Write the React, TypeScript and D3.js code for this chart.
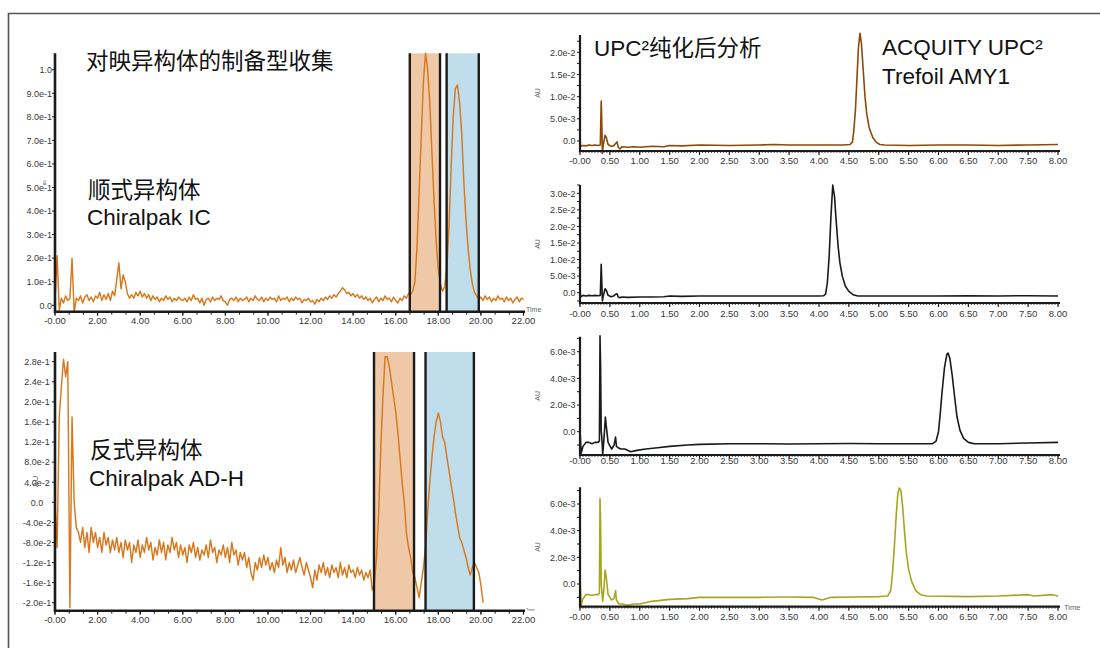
import React from 'react';
import * as d3 from 'd3';

// preparative runs are sampled every 0.1 min, starting at 0
const prepStep = 0.1;

// 顺式异构体 / Chiralpak IC, 0.0 – 22.0 min
const cisSignal = [
  0.02, 0.21, -0.02, 0.03, 0.01, 0.04, 0.02, 0.03, 0.2, -0.03,
  0.03, 0.02, 0.04, 0.01, 0.035, 0.045, 0.02, 0.035, 0.015, 0.04,
  0.03, 0.055, 0.02, 0.045, 0.025, 0.05, 0.02, 0.06, 0.04, 0.11,
  0.18, 0.07, 0.13, 0.1, 0.05, 0.03, 0.045, 0.03, 0.055, 0.04,
  0.06, 0.035, 0.05, 0.03, 0.045, 0.02, 0.04, 0.025, 0.035, 0.015,
  0.03, 0.02, 0.04, 0.025, 0.035, 0.015, 0.03, 0.02, 0.035, 0.025,
  0.02, 0.03, 0.015, 0.035, 0.02, 0.045, 0.025, 0.03, 0.01, 0.03,
  0.0, 0.025, 0.03, 0.015, 0.035, 0.02, 0.03, 0.025, 0.04, 0.02,
  0.015, 0.0, 0.025, 0.03, 0.02, 0.035, 0.015, 0.03, 0.02, 0.025,
  0.035, 0.015, 0.03, 0.02, 0.04, 0.025, 0.02, 0.035, 0.015, 0.03,
  0.02, 0.035, 0.025, 0.03, 0.015, 0.04, 0.02, 0.03, 0.025, 0.035,
  0.015, 0.03, 0.02, 0.035, 0.025, 0.03, 0.01, 0.025, 0.02, 0.03,
  0.015, 0.02, 0.005, 0.025, 0.015, 0.03, 0.02, 0.035, 0.025, 0.04,
  0.03, 0.045, 0.035, 0.05, 0.06, 0.075, 0.065, 0.05, 0.055, 0.04,
  0.05, 0.035, 0.045, 0.03, 0.04, 0.025, 0.035, 0.02, 0.03, 0.01,
  0.025, 0.035, 0.015, 0.03, 0.02, 0.04, 0.025, 0.03, 0.015, 0.035,
  0.02, 0.01, 0.03, 0.02, 0.04, 0.03, 0.05, 0.045, 0.06, 0.1,
  0.25, 0.48, 0.72, 0.95, 1.07, 1.0, 0.86, 0.65, 0.44, 0.27,
  0.15, 0.09, 0.06, 0.08, 0.16, 0.33, 0.58, 0.8, 0.92, 0.935,
  0.86, 0.73, 0.52, 0.36, 0.24, 0.15, 0.09, 0.055, 0.04, 0.025,
  0.035, 0.02, 0.04, 0.025, 0.035, 0.015, 0.03, 0.02, 0.04, 0.025,
  0.03, 0.015, 0.035, 0.02, 0.03, 0.01, 0.025, 0.035, 0.015, 0.03,
  0.025,
];

// 反式异构体 / Chiralpak AD-H, 0.0 – 20.1 min
const transSignal = [
  0.0, -0.09, 0.17, 0.23, 0.285, 0.25, 0.28, -0.21, 0.17, 0.0,
  -0.05, -0.06, -0.08, -0.05, -0.09, -0.06, -0.1, -0.05, -0.08, -0.06,
  -0.09, -0.07, -0.1, -0.06, -0.085, -0.07, -0.1, -0.075, -0.095, -0.07,
  -0.1, -0.08, -0.11, -0.075, -0.095, -0.08, -0.12, -0.085, -0.1, -0.075,
  -0.11, -0.085, -0.1, -0.07, -0.095, -0.08, -0.115, -0.09, -0.105, -0.075,
  -0.1, -0.08, -0.115, -0.085, -0.1, -0.07, -0.095, -0.08, -0.11, -0.085,
  -0.105, -0.09, -0.12, -0.085, -0.1, -0.08, -0.11, -0.09, -0.115, -0.095,
  -0.105, -0.085, -0.11, -0.075, -0.1, -0.09, -0.12, -0.095, -0.105, -0.085,
  -0.11, -0.09, -0.12, -0.08, -0.105, -0.095, -0.125, -0.1, -0.115, -0.1,
  -0.13, -0.11, -0.14, -0.155, -0.12, -0.135, -0.11, -0.13, -0.105, -0.125,
  -0.11, -0.135, -0.12, -0.14, -0.115, -0.13, -0.09, -0.125, -0.11, -0.14,
  -0.12, -0.135, -0.115, -0.14, -0.125, -0.11, -0.13, -0.145, -0.12, -0.135,
  -0.15, -0.17, -0.135, -0.155, -0.125, -0.14, -0.12, -0.145, -0.13, -0.15,
  -0.125, -0.14, -0.13, -0.15, -0.12, -0.145, -0.13, -0.15, -0.125, -0.14,
  -0.135, -0.15, -0.13, -0.145, -0.135, -0.155, -0.14, -0.15, -0.135, -0.175,
  -0.16, -0.11, -0.02, 0.11, 0.21, 0.29, 0.29, 0.27, 0.24, 0.21,
  0.18, 0.14, 0.09, 0.04, 0.0, -0.06, -0.09, -0.11, -0.14, -0.15,
  -0.17, -0.19, -0.16, -0.13, -0.09, -0.02, 0.04, 0.09, 0.13, 0.16,
  0.178, 0.16, 0.13, 0.12, 0.09, 0.064, 0.035, 0.01, -0.02, -0.045,
  -0.07, -0.08, -0.095, -0.11, -0.13, -0.145, -0.13, -0.12, -0.13, -0.14,
  -0.165, -0.2,
];

// collected fractions, [start, end] min
const cisFractions = [[16.66, 18.08], [18.39, 19.9]];
const transFractions = [[14.98, 16.86], [17.4, 19.67]];
const fractionFills = ['#EFC9A7', '#C0DDEB'];

const prepTimeTicks = [0, 2, 4, 6, 8, 10, 12, 14, 16, 18, 20, 22];
const prepTimeLabels = ['-0.00', '2.00', '4.00', '6.00', '8.00', '10.00', '12.00', '14.00', '16.00', '18.00', '20.00', '22.00'];

const cisTicks = [0, 0.1, 0.2, 0.3, 0.4, 0.5, 0.6, 0.7, 0.8, 0.9, 1.0];
const cisTickLabels = ['0.0', '1.0e-1', '2.0e-1', '3.0e-1', '4.0e-1', '5.0e-1', '6.0e-1', '7.0e-1', '8.0e-1', '9.0e-1', '1.0'];
const transTicks = [-0.2, -0.16, -0.12, -0.08, -0.04, 0, 0.04, 0.08, 0.12, 0.16, 0.2, 0.24, 0.28];
const transTickLabels = ['-2.0e-1', '-1.6e-1', '-1.2e-1', '-8.0e-2', '-4.0e-2', '0.0', '4.0e-2', '8.0e-2', '1.2e-1', '1.6e-1', '2.0e-1', '2.4e-1', '2.8e-1'];

// UPC2 analyses after purification: [min, AU]
const upcTraceA = [
  [0, 0.0005], [0.01, -0.0012], [0.05, -0.001], [0.1, -0.0011], [0.15, -0.0009], [0.2, -0.001],
  [0.25, -0.0009], [0.3, -0.001], [0.34, -0.0009], [0.355, 0.009], [0.365, 0.004], [0.375, -0.0028],
  [0.39, -0.0008], [0.42, 0.0013], [0.44, 0.0008], [0.47, -0.0008], [0.52, -0.0012], [0.56, -0.0011],
  [0.6, -0.0005], [0.62, -0.0002], [0.64, -0.0014], [0.67, -0.0018], [0.7, -0.0013], [0.8, -0.0014],
  [0.9, -0.0013], [1.0, -0.0014], [1.2, -0.0012], [1.4, -0.0013], [1.5, -0.001], [1.7, -0.0011],
  [2.0, -0.0009], [2.5, -0.001], [3.0, -0.0009], [3.27, -0.0008], [3.5, -0.0009], [4.0, -0.0009],
  [4.4, -0.0009], [4.52, -0.0008], [4.56, -0.0002], [4.58, 0.002], [4.61, 0.007], [4.635, 0.014],
  [4.66, 0.021], [4.685, 0.0243], [4.71, 0.022], [4.74, 0.016], [4.77, 0.01], [4.8, 0.006],
  [4.84, 0.003], [4.9, 0.0008], [4.96, -0.0003], [5.02, -0.0008], [5.1, -0.0009], [5.5, -0.001],
  [6.0, -0.0009], [6.5, -0.0009], [7.0, -0.001], [7.5, -0.0009], [8.0, -0.0008],
];
const upcTraceB = [
  [0, 0.0008], [0.01, -0.0012], [0.05, -0.0008], [0.1, -0.001], [0.15, -0.0008], [0.2, -0.0009],
  [0.25, -0.0008], [0.3, -0.0009], [0.34, -0.0008], [0.355, 0.0086], [0.365, 0.003], [0.375, -0.0025],
  [0.39, -0.0009], [0.42, 0.0012], [0.44, 0.0007], [0.47, -0.0008], [0.52, -0.0012], [0.56, -0.001],
  [0.6, -0.0004], [0.62, -0.0003], [0.64, -0.0013], [0.67, -0.0015], [0.7, -0.0013], [0.8, -0.0014],
  [1.0, -0.0013], [1.2, -0.0013], [1.4, -0.0012], [1.5, -0.001], [1.7, -0.0011], [2.0, -0.001],
  [2.5, -0.001], [3.0, -0.001], [3.5, -0.001], [4.0, -0.001], [4.08, -0.0009], [4.11, -0.0004],
  [4.14, 0.003], [4.17, 0.011], [4.2, 0.023], [4.23, 0.0325], [4.26, 0.029], [4.29, 0.021],
  [4.32, 0.014], [4.35, 0.009], [4.39, 0.005], [4.44, 0.002], [4.5, 0.0004], [4.57, -0.0006],
  [4.65, -0.001], [5.0, -0.001], [5.5, -0.001], [6.0, -0.001], [6.5, -0.0009], [7.0, -0.001],
  [7.5, -0.0009], [8.0, -0.001],
];
const upcTraceC = [
  [0, 0.0001], [0.02, -0.0016], [0.05, -0.0011], [0.1, -0.0008], [0.15, -0.0008], [0.2, -0.0009],
  [0.25, -0.0008], [0.3, -0.0008], [0.325, -0.0007], [0.335, 0.0072], [0.345, 0.0048], [0.355, 0.0],
  [0.365, -0.0004], [0.38, -0.0017], [0.4, -0.0006], [0.425, 0.0011], [0.44, 0.0004], [0.47, -0.0008],
  [0.53, -0.0013], [0.57, -0.001], [0.595, -0.0004], [0.61, -0.0011], [0.64, -0.0012], [0.68, -0.0013],
  [0.75, -0.0013], [0.85, -0.0015], [0.95, -0.0014], [1.1, -0.0013], [1.3, -0.0012], [1.5, -0.0011],
  [1.8, -0.001], [2.0, -0.00095], [2.5, -0.0009], [3.0, -0.0009], [3.5, -0.00092], [4.0, -0.0009],
  [4.5, -0.00088], [5.0, -0.0009], [5.5, -0.0009], [5.9, -0.0009], [5.96, -0.0007], [6.0, 0.0],
  [6.03, 0.0014], [6.06, 0.003], [6.1, 0.0048], [6.14, 0.0058], [6.16, 0.0059], [6.19, 0.0055],
  [6.23, 0.0042], [6.27, 0.0026], [6.31, 0.0011], [6.36, 0.0001], [6.42, -0.0005], [6.5, -0.0008],
  [6.6, -0.0009], [7.0, -0.0009], [7.5, -0.00085], [8.0, -0.0008],
];
const upcTraceD = [
  [0, 0.00055], [0.02, -0.0016], [0.05, -0.0011], [0.1, -0.0008], [0.15, -0.0008], [0.2, -0.00085],
  [0.25, -0.0008], [0.3, -0.0008], [0.325, -0.0007], [0.335, 0.0064], [0.345, 0.0045], [0.355, 0.0],
  [0.365, -0.0005], [0.38, -0.0013], [0.4, -0.0004], [0.42, 0.00105], [0.44, 0.0005], [0.47, -0.0008],
  [0.53, -0.0012], [0.57, -0.0011], [0.595, -0.0005], [0.61, -0.0012], [0.65, -0.0015], [0.7, -0.0015],
  [0.8, -0.0016], [0.9, -0.0015], [1.0, -0.0015], [1.2, -0.0013], [1.5, -0.00115], [1.8, -0.0011],
  [2.0, -0.001], [2.5, -0.001], [3.0, -0.001], [3.5, -0.00098], [3.9, -0.001], [4.05, -0.0012],
  [4.2, -0.001], [4.6, -0.00098], [5.0, -0.00095], [5.15, -0.0009], [5.2, -0.0005], [5.23, 0.0008],
  [5.26, 0.0027], [5.29, 0.005], [5.32, 0.0068], [5.345, 0.0072], [5.37, 0.007], [5.4, 0.0058],
  [5.43, 0.004], [5.46, 0.0024], [5.5, 0.0011], [5.55, 0.0002], [5.62, -0.0005], [5.7, -0.0008],
  [5.8, -0.0009], [6.5, -0.00095], [7.0, -0.0009], [7.5, -0.0008], [7.6, -0.0009], [7.9, -0.0008],
  [8.0, -0.0009],
];

const upcTimeTicks = [0, 0.5, 1, 1.5, 2, 2.5, 3, 3.5, 4, 4.5, 5, 5.5, 6, 6.5, 7, 7.5, 8];
const upcTimeLabels = ['-0.00', '0.50', '1.00', '1.50', '2.00', '2.50', '3.00', '3.50', '4.00', '4.50', '5.00', '5.50', '6.00', '6.50', '7.00', '7.50', '8.00'];

const upcTicksA = [0, 0.005, 0.01, 0.015, 0.02];
const upcLabelsA = ['0.0', '5.0e-3', '1.0e-2', '1.5e-2', '2.0e-2'];
const upcTicksB = [0, 0.005, 0.01, 0.015, 0.02, 0.025, 0.03];
const upcLabelsB = ['0.0', '5.0e-3', '1.0e-2', '1.5e-2', '2.0e-2', '2.5e-2', '3.0e-2'];
const upcTicksCD = [0, 0.002, 0.004, 0.006];
const upcLabelsCD = ['0.0', '2.0e-3', '4.0e-3', '6.0e-3'];

const prepColor = '#D8781E';
const axisColor = '#1b1b1b';
const labelColor = '#383838';

function PrepPanel({ signal, x, y, top, bottom, ticks, labels, fractions, labelX, labelAnchor, auX, auSize, timeSize }: any) {
  const line = d3.line<number>().x((_, i) => x(i * prepStep)).y((v) => y(v));
  const x0 = x(0);
  const xEnd = x.range()[1] + 1.5;
  const minor = d3.range(0, 22.001, 2 / 3);

  return (
    <g>
      {fractions.map(([a, b]: number[], i: number) => (
        <rect key={'f' + i} x={x(a)} y={top} width={x(b) - x(a)} height={bottom - top} fill={fractionFills[i]} />
      ))}
      <path d={line(signal) ?? ''} fill="none" stroke={prepColor} strokeWidth={1.45} strokeLinejoin="round" />
      {fractions.flat().map((t: number, i: number) => (
        <line key={'b' + i} x1={x(t)} x2={x(t)} y1={top} y2={bottom} stroke={axisColor} strokeWidth={2.4} />
      ))}
      {minor.map((t, i) => (
        <line key={'m' + i} x1={x(t)} x2={x(t)} y1={bottom} y2={bottom + 3} stroke={axisColor} strokeWidth={1} />
      ))}
      {prepTimeTicks.map((t, i) => (
        <g key={'t' + i}>
          <line x1={x(t)} x2={x(t)} y1={bottom} y2={bottom + 4} stroke={axisColor} strokeWidth={1.2} />
          <text x={x(t)} y={bottom + 12} textAnchor="middle" fontSize={9.5} fill={labelColor}>{prepTimeLabels[i]}</text>
        </g>
      ))}
      {ticks.map((v: number, i: number) => (
        <g key={'y' + i}>
          <line x1={x0 - 3} x2={x0} y1={y(v)} y2={y(v)} stroke={axisColor} strokeWidth={1} />
          <text x={labelX} y={y(v) + 3.3} textAnchor={labelAnchor} fontSize={9} fill={labelColor}>{labels[i]}</text>
        </g>
      ))}
      <text transform={`translate(${auX},${(top + bottom) / 2}) rotate(-90)`} textAnchor="middle" fontSize={auSize} fill="#666">AU</text>
      <path d={`M${x0},${top} V${bottom} H${xEnd}`} fill="none" stroke={axisColor} strokeWidth={2.6} />
      <text x={xEnd + 1} y={bottom} fontSize={timeSize} fill="#666">Time</text>
    </g>
  );
}

function UpcPanel({ data, x, y, top, bottom, ticks, labels, color, labelGap, showTime }: any) {
  const line = d3.line<number[]>().x((d) => x(d[0])).y((d) => y(d[1]));
  const x0 = x(0);
  const xEnd = x(8) + 2;
  const half = (ticks[1] - ticks[0]) / 2;
  const lo = y.invert(bottom);
  const hi = y.invert(top);
  const minorY = d3.range(Math.ceil(lo / half) * half, hi, half);
  const minorX = d3.range(0, 8.001, 0.05);

  return (
    <g>
      <path d={line(data) ?? ''} fill="none" stroke={color} strokeWidth={1.6} strokeLinejoin="round" />
      {minorX.map((t, i) => (
        <line key={'m' + i} x1={x(t)} x2={x(t)} y1={bottom} y2={bottom + 2} stroke={axisColor} strokeWidth={0.8} />
      ))}
      {upcTimeTicks.map((t, i) => (
        <g key={'t' + i}>
          <line x1={x(t)} x2={x(t)} y1={bottom} y2={bottom + 4} stroke={axisColor} strokeWidth={1.2} />
          <text x={x(t)} y={bottom + labelGap} textAnchor="middle" fontSize={9.5} fill={labelColor}>{upcTimeLabels[i]}</text>
        </g>
      ))}
      {minorY.map((v, i) => (
        <line key={'n' + i} x1={x0 - 3} x2={x0} y1={y(v)} y2={y(v)} stroke={axisColor} strokeWidth={1} />
      ))}
      {ticks.map((v: number, i: number) => (
        <text key={'y' + i} x={575.5} y={y(v) + 3.2} textAnchor="end" fontSize={9} fill={labelColor}>{labels[i]}</text>
      ))}
      <text transform={`translate(540,${(top + bottom) / 2}) rotate(-90)`} textAnchor="middle" fontSize={7} fill="#666">AU</text>
      <path d={`M${x0},${top} V${bottom} H${xEnd}`} fill="none" stroke={axisColor} strokeWidth={2.2} />
      {showTime && <text x={xEnd + 4} y={bottom + 3} fontSize={7.5} fill="#666">Time</text>}
    </g>
  );
}

export default function App() {
  const prepX = d3.scaleLinear().domain([0, 22]).range([55, 523.5]);
  const cisY = d3.scaleLinear().domain([0, 1]).range([305.3, 69.7]);
  const transY = d3.scaleLinear().domain([-0.2, 0.28]).range([602.7, 361.7]);

  const upcX = d3.scaleLinear().domain([0, 8]).range([580, 1058]);
  const yA = d3.scaleLinear().domain([0, 0.02]).range([141, 52.3]);
  const yB = d3.scaleLinear().domain([0, 0.03]).range([292.7, 193.3]);
  const yC = d3.scaleLinear().domain([0, 0.006]).range([431.7, 351.7]);
  const yD = d3.scaleLinear().domain([0, 0.006]).range([584, 504]);

  return (
    <svg
      width={1100}
      height={648}
      style={{ position: 'absolute', left: 0, top: 0, background: '#fff' }}
      fontFamily="'Liberation Sans', Arial, sans-serif"
    >
      <rect width={1100} height={648} fill="#fff" />
      <path d="M8.5,648 V13.5 H1100" fill="none" stroke="#555" strokeWidth={1.6} />

      <PrepPanel signal={cisSignal} x={prepX} y={cisY} top={53.3} bottom={311.7}
        ticks={cisTicks} labels={cisTickLabels} fractions={cisFractions}
        labelX={52} labelAnchor="end" auX={45.5} auSize={4} timeSize={7} />
      <PrepPanel signal={transSignal} x={prepX} y={transY} top={352} bottom={610.7}
        ticks={transTicks} labels={transTickLabels} fractions={transFractions}
        labelX={37} labelAnchor="middle" auX={38} auSize={8} timeSize={4} />

      <UpcPanel data={upcTraceA} x={upcX} y={yA} top={35} bottom={151} ticks={upcTicksA} labels={upcLabelsA} color="#8B4A0A" labelGap={12.5} />
      <UpcPanel data={upcTraceB} x={upcX} y={yB} top={185} bottom={303} ticks={upcTicksB} labels={upcLabelsB} color="#1a1a1a" labelGap={13.5} />
      <UpcPanel data={upcTraceC} x={upcX} y={yC} top={336.7} bottom={455} ticks={upcTicksCD} labels={upcLabelsCD} color="#1a1a1a" labelGap={9} />
      <UpcPanel data={upcTraceD} x={upcX} y={yD} top={487.3} bottom={606.7} ticks={upcTicksCD} labels={upcLabelsCD} color="#A6A61E" labelGap={13} showTime />

      <g fontFamily="'Noto Sans CJK SC', sans-serif" fontSize={22.5} fill="#111">
        <text x={86} y={69}>对映异构体的制备型收集</text>
        <text x={88} y={197.5}>顺式异构体</text>
        <text x={90} y={457.5}>反式异构体</text>
      </g>
      <g fontSize={22.5} fill="#111">
        <text x={87} y={225}>Chiralpak IC</text>
        <text x={89} y={486}>Chiralpak AD-H</text>
        <text x={594} y={56}>UPC²<tspan fontFamily="'Noto Sans CJK SC', sans-serif">纯化后分析</tspan></text>
        <text x={882} y={55}>ACQUITY UPC²</text>
        <text x={882} y={83.5}>Trefoil AMY1</text>
      </g>
    </svg>
  );
}
